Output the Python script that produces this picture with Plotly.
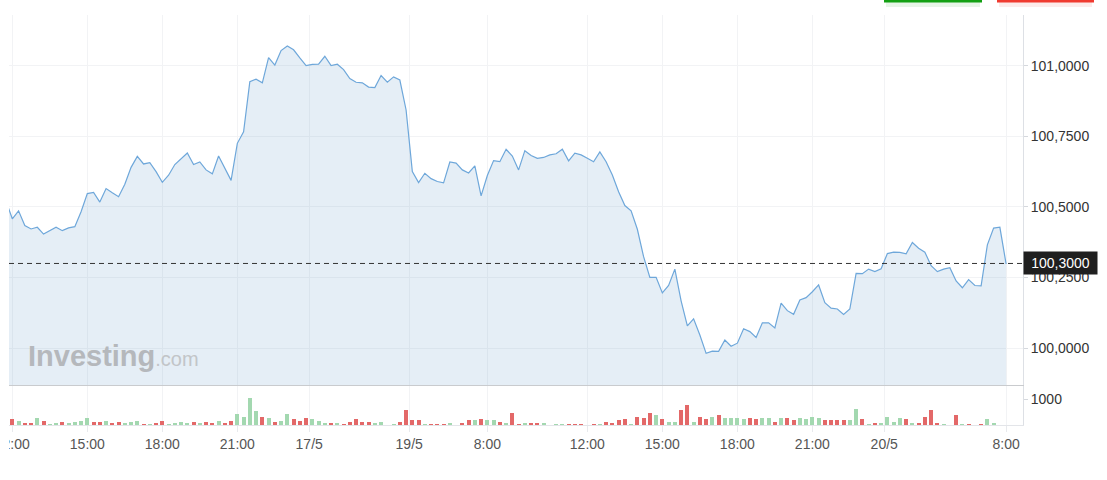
import plotly.graph_objects as go

# ---------------- data ----------------
price_first_index = -1
prices = [
    100.520, 100.458, 100.486, 100.434, 100.422, 100.428, 100.404, 100.416, 100.428, 100.416,
    100.426, 100.430, 100.483, 100.547, 100.551, 100.517, 100.565, 100.550, 100.536, 100.580,
    100.640, 100.679, 100.652, 100.657, 100.625, 100.587, 100.612, 100.650, 100.670, 100.691,
    100.650, 100.659, 100.631, 100.617, 100.680, 100.636, 100.594, 100.725, 100.766, 100.943,
    100.952, 100.939, 101.028, 101.002, 101.053, 101.069, 101.056, 101.027, 101.000, 101.004,
    101.005, 101.033, 101.000, 101.005, 100.986, 100.954, 100.941, 100.939, 100.924, 100.922,
    100.965, 100.941, 100.960, 100.949, 100.843, 100.625, 100.586, 100.619, 100.600, 100.590,
    100.585, 100.659, 100.655, 100.631, 100.620, 100.645, 100.539, 100.611, 100.664, 100.660,
    100.704, 100.680, 100.631, 100.699, 100.682, 100.672, 100.675, 100.684, 100.688, 100.704,
    100.663, 100.690, 100.684, 100.672, 100.660, 100.695, 100.660, 100.613, 100.554, 100.505,
    100.486, 100.421, 100.324, 100.251, 100.251, 100.196, 100.222, 100.280, 100.168, 100.079,
    100.104, 100.047, 99.982, 99.990, 99.989, 100.029, 100.007, 100.018, 100.069, 100.059,
    100.038, 100.090, 100.090, 100.072, 100.160, 100.133, 100.120, 100.171, 100.179, 100.200,
    100.224, 100.161, 100.142, 100.139, 100.120, 100.139, 100.265, 100.264, 100.280, 100.271,
    100.281, 100.335, 100.340, 100.339, 100.334, 100.374, 100.354, 100.340, 100.292, 100.271,
    100.280, 100.285, 100.238, 100.214, 100.243, 100.222, 100.221, 100.366, 100.425, 100.428,
    100.298,
]

volumes = [
    218, 167, 77, 51, 256, 167, 38, 64, 115, 77,
    115, 167, 256, 115, 115, 167, 51, 115, 77, 115,
    167, 38, 38, 64, 167, 38, 64, 103, 77, 115,
    77, 115, 77, 167, 77, 167, 423, 308, 1026, 551,
    308, 256, 128, 167, 423, 218, 167, 256, 218, 167,
    77, 77, 77, 38, 128, 218, 128, 128, 77, 115,
    0, 26, 128, 564, 179, 179, 38, 38, 38, 38,
    77, 0, 77, 179, 179, 231, 179, 179, 128, 77,
    462, 38, 77, 77, 51, 77, 0, 38, 38, 38,
    38, 38, 0, 38, 38, 128, 77, 179, 231, 38,
    321, 282, 462, 372, 231, 128, 128, 564, 756, 128,
    321, 231, 321, 372, 282, 282, 282, 218, 269, 218,
    269, 269, 128, 269, 269, 179, 269, 218, 321, 269,
    179, 179, 179, 179, 179, 603, 218, 38, 77, 77,
    321, 128, 269, 218, 77, 77, 321, 564, 77, 38,
    0, 372, 38, 38, 0, 38, 218, 77, 0, 0,
]

# g = up bar, r = down bar
volume_dir = (
    "rgrrgrggrg" "gggrrgrrgg" "grgrrggggr" "grrgrrgggg"
    "rgrggrrrgg" "grgrrrrrgg" "ggrrrrgrrr" "ggrrgrggrg"
    "rrgrrggggr" "rrrrgrrrrg" "rrrgrggrrg" "rrgrggggrr"
    "ggrgrrgggg" "rrrrggrgrg" "gggrgrrrrg" "grgrgrgggr"
)

tick_labels = ["12:00", "15:00", "18:00", "21:00", "17/5", "19/5", "8:00",
               "12:00", "15:00", "18:00", "21:00", "20/5", "8:00"]
tick_positions = [0, 12, 24, 36, 47.5, 63.5, 76, 92, 104, 116, 128, 139.5, 159]

price_ticks = [100.0, 100.25, 100.5, 100.75, 101.0]
price_tick_text = ["100,0000", "100,2500", "100,5000", "100,7500", "101,0000"]
volume_ticks = [1000]
volume_tick_text = ["1000"]
last_price = 100.3
last_price_text = "100,3000"

# ---------------- layout helpers ----------------
W, H = 1107, 480


def px_x(p):
    return p / W


def px_y(p):
    return 1 - p / H


price_x = list(range(price_first_index, price_first_index + len(prices)))
vol_x = list(range(len(volumes)))
vol_colors = ["#a3d8b0" if c == "g" else "#e36868" for c in volume_dir]

fig = go.Figure()

fig.add_trace(go.Scatter(
    x=price_x, y=prices, mode="lines",
    line=dict(color="#6ea7da", width=1.2),
    fill="tozeroy", fillcolor="rgba(110,160,205,0.18)",
    xaxis="x", yaxis="y", hoverinfo="skip", showlegend=False,
))

fig.add_trace(go.Bar(
    x=vol_x, y=volumes, marker=dict(color=vol_colors, line=dict(width=0)),
    width=0.64, xaxis="x2", yaxis="y2", hoverinfo="skip", showlegend=False,
))

grid = "#f2f3f5"
font_family = "Liberation Sans, Arial, sans-serif"
x_range = [-0.53, 161.7]
x_dom = [px_x(9), px_x(1023)]

fig.update_layout(
    width=W, height=H,
    margin=dict(l=0, r=0, t=0, b=0),
    paper_bgcolor="white", plot_bgcolor="white",
    font=dict(family=font_family, size=14, color="#333"),
    bargap=0,
    xaxis=dict(
        domain=x_dom, range=x_range, anchor="y",
        tickvals=tick_positions, ticktext=tick_labels, showticklabels=False,
        showgrid=True, gridcolor=grid, gridwidth=1, zeroline=False,
        showline=True, linecolor="#c9cbce", linewidth=1, ticks="",
    ),
    yaxis=dict(
        domain=[px_y(385), px_y(15)], range=[99.870, 101.179], anchor="x",
        side="right", tickvals=price_ticks, ticktext=price_tick_text,
        showgrid=True, gridcolor=grid, gridwidth=1, zeroline=False,
        showline=True, linecolor="#dde0e5", linewidth=1,
        ticks="outside", ticklen=4, tickcolor="#d5d8dd",
        tickfont=dict(size=14, color="#333"), automargin=False,
    ),
    xaxis2=dict(
        domain=x_dom, range=x_range, anchor="y2",
        tickvals=tick_positions, ticktext=tick_labels,
        showgrid=True, gridcolor=grid, gridwidth=1, zeroline=False,
        showline=True, linecolor="#e3e5e9", linewidth=1,
        ticks="outside", ticklen=6, tickcolor="#e8eaed",
        tickfont=dict(size=14, color="#555"), automargin=False,
        ticklabeloverflow="allow",
    ),
    yaxis2=dict(
        domain=[px_y(425), px_y(386)], range=[0, 1500], anchor="x2",
        side="right", tickvals=volume_ticks, ticktext=volume_tick_text,
        showgrid=False, zeroline=False,
        showline=True, linecolor="#dde0e5", linewidth=1,
        ticks="outside", ticklen=4, tickcolor="#d5d8dd",
        tickfont=dict(size=14, color="#333"), automargin=False,
    ),
)

shapes = [
    # dashed last-price line
    dict(type="line", xref="paper", yref="y", x0=px_x(9), x1=px_x(1023),
         y0=last_price, y1=last_price, line=dict(color="#333", width=1, dash="5px,4px"),
         layer="above"),
    # cover clipped part of first x label (as in the reference, only ":00" shows)
    dict(type="rect", xref="paper", yref="paper", x0=-0.01, x1=px_x(9),
         y0=-0.01, y1=px_y(428), fillcolor="white", line=dict(width=0), layer="above"),
    # top buttons (only bottom edge visible)
    dict(type="rect", xref="paper", yref="paper", x0=px_x(886), x1=px_x(980),
         y0=px_y(7), y1=px_y(2), fillcolor="rgba(20,160,20,0.10)", line=dict(width=0), layer="above"),
    dict(type="rect", xref="paper", yref="paper", x0=px_x(884), x1=px_x(982),
         y0=px_y(2.5), y1=1.02, fillcolor="#12a012", line=dict(width=0), layer="above"),
    dict(type="rect", xref="paper", yref="paper", x0=px_x(999), x1=px_x(1092),
         y0=px_y(7), y1=px_y(2), fillcolor="rgba(240,60,50,0.10)", line=dict(width=0), layer="above"),
    dict(type="rect", xref="paper", yref="paper", x0=px_x(997), x1=px_x(1094),
         y0=px_y(2.5), y1=1.02, fillcolor="#f03a2f", line=dict(width=0), layer="above"),
]
fig.update_layout(shapes=shapes)

fig.add_annotation(
    xref="paper", yref="y", x=px_x(1023), y=last_price, xanchor="left", yanchor="middle",
    text=last_price_text, showarrow=False, bgcolor="#1f1f1f", borderpad=2,
    width=69, height=18, align="center",
    font=dict(family=font_family, size=14, color="white"),
)

fig.add_annotation(
    xref="paper", yref="paper", x=px_x(26), y=px_y(356), xanchor="left", yanchor="middle",
    text="<b>Investing</b><span style='font-size:20px;color:#c2c5c8'>.com</span>",
    showarrow=False, font=dict(family=font_family, size=29, color="#b5b8bc"),
)

fig.write_html(
    "out.html",
    config={"displayModeBar": False},
    post_script="document.body.style.margin='0';document.body.style.overflow='hidden';",
)
